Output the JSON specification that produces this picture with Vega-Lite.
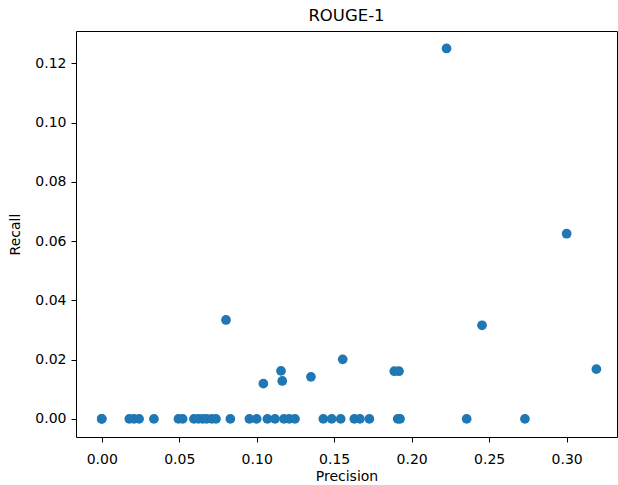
{
  "$schema": "https://vega.github.io/schema/vega-lite/v6.json",
  "autosize": {"type": "none"},
  "width": 541,
  "height": 406,
  "padding": {"left": 76, "top": 31, "right": 1, "bottom": 48},
  "background": "white",
  "title": {"text": "ROUGE-1", "font": "DejaVu Sans", "fontSize": 16.5, "fontWeight": "normal", "color": "black", "offset": 7, "anchor": "middle"},
  "data": {"values": [
    {"precision": 0.0, "recall": 0.0},
    {"precision": 0.0, "recall": 0.0},
    {"precision": 0.0178, "recall": 0.0},
    {"precision": 0.0208, "recall": 0.0},
    {"precision": 0.0241, "recall": 0.0},
    {"precision": 0.0337, "recall": 0.0},
    {"precision": 0.0495, "recall": 0.0},
    {"precision": 0.0522, "recall": 0.0},
    {"precision": 0.0595, "recall": 0.0},
    {"precision": 0.0624, "recall": 0.0},
    {"precision": 0.0652, "recall": 0.0},
    {"precision": 0.0677, "recall": 0.0},
    {"precision": 0.071, "recall": 0.0},
    {"precision": 0.0737, "recall": 0.0},
    {"precision": 0.083, "recall": 0.0},
    {"precision": 0.0953, "recall": 0.0},
    {"precision": 0.1, "recall": 0.0},
    {"precision": 0.1069, "recall": 0.0},
    {"precision": 0.1118, "recall": 0.0},
    {"precision": 0.1176, "recall": 0.0},
    {"precision": 0.121, "recall": 0.0},
    {"precision": 0.1247, "recall": 0.0},
    {"precision": 0.143, "recall": 0.0},
    {"precision": 0.1484, "recall": 0.0},
    {"precision": 0.1542, "recall": 0.0},
    {"precision": 0.163, "recall": 0.0},
    {"precision": 0.1666, "recall": 0.0},
    {"precision": 0.1727, "recall": 0.0},
    {"precision": 0.191, "recall": 0.0},
    {"precision": 0.1925, "recall": 0.0},
    {"precision": 0.2355, "recall": 0.0},
    {"precision": 0.2731, "recall": 0.0},
    {"precision": 0.0802, "recall": 0.0334},
    {"precision": 0.1043, "recall": 0.0119},
    {"precision": 0.1157, "recall": 0.0162},
    {"precision": 0.1165, "recall": 0.0128},
    {"precision": 0.135, "recall": 0.0142},
    {"precision": 0.1555, "recall": 0.0201},
    {"precision": 0.1888, "recall": 0.0161},
    {"precision": 0.1918, "recall": 0.0161},
    {"precision": 0.2225, "recall": 0.125},
    {"precision": 0.3, "recall": 0.0625},
    {"precision": 0.2454, "recall": 0.0316},
    {"precision": 0.3192, "recall": 0.0168}
  ]},
  "mark": {"type": "point", "shape": "circle", "filled": true, "size": 95, "color": "#1f77b4", "opacity": 1},
  "encoding": {
    "x": {
      "field": "precision", "type": "quantitative", "title": "Precision",
      "scale": {"domain": [-0.0166, 0.3325], "nice": false, "zero": false},
      "axis": {"values": [0, 0.05, 0.1, 0.15, 0.2, 0.25, 0.3], "format": ".2f", "labelPadding": 10, "titlePadding": 3}
    },
    "y": {
      "field": "recall", "type": "quantitative", "title": "Recall",
      "scale": {"domain": [-0.0061, 0.1309], "nice": false, "zero": false},
      "axis": {"values": [0, 0.02, 0.04, 0.06, 0.08, 0.1, 0.12], "format": ".2f", "labelPadding": 5, "titlePadding": 12}
    }
  },
  "config": {
    "view": {"stroke": "black", "strokeWidth": 1},
    "axis": {
      "grid": false,
      "domain": false,
      "tickColor": "black",
      "tickSize": 5,
      "tickWidth": 1,
      "labelFont": "DejaVu Sans",
      "labelFontSize": 14,
      "labelColor": "black",
      "titleFont": "DejaVu Sans",
      "titleFontSize": 14,
      "titleFontWeight": "normal",
      "titleColor": "black"
    }
  }
}
